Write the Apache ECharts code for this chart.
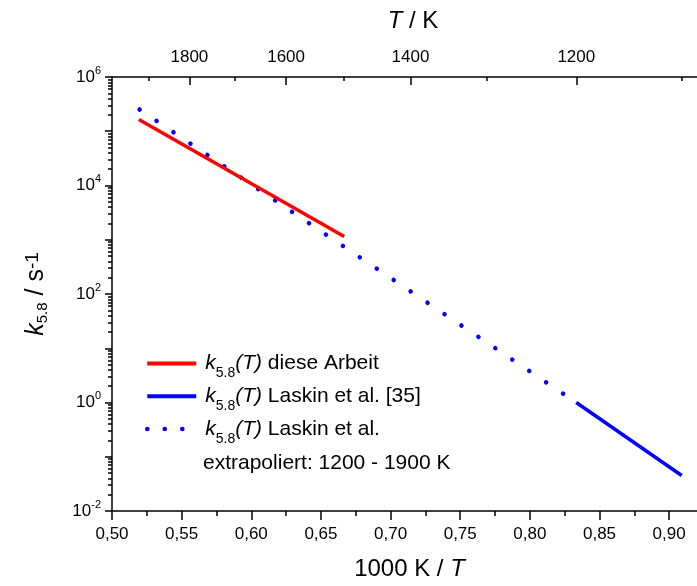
<!DOCTYPE html>
<html><head><meta charset="utf-8">
<script src="https://cdn.jsdelivr.net/npm/echarts@6/dist/echarts.min.js"></script>
<style>html,body{margin:0;padding:0;background:#fff}#c{width:697px;height:586px}</style>
</head><body><div id="c"></div>
<script>
// ---- data ----
const xMajorTicks = [0.50, 0.55, 0.60, 0.65, 0.70, 0.75, 0.80, 0.85, 0.90];
const xMinorTicks = [0.525, 0.575, 0.625, 0.675, 0.725, 0.775, 0.825, 0.875];
const topMajorT = [1800, 1600, 1400, 1200];
const topMinorT = [1900, 1700, 1500, 1300, 1100];
const yLabelValues = [1e-2, 1e0, 1e2, 1e4, 1e6];
const yDecades = [1e-2, 1e-1, 1e0, 1e1, 1e2, 1e3, 1e4, 1e5, 1e6];
const yMinorMultipliers = [2, 3, 4, 5, 6, 7, 8, 9];

const redX = [0.5193, 0.6667];
const redY = [1.65e5, 1146];
const blueSolidX = [0.8333, 0.909];
const blueSolidY = [1.0, 0.045];
const blueDotX = [0.5198, 0.8333];
const blueDotY = [2.52e5, 1.0];

const nameRed = 'k5.8(T) diese Arbeit';
const nameBlue = 'k5.8(T) Laskin et al. [35]';
const nameDot = 'k5.8(T) Laskin et al.';
const extraText = 'extrapoliert: 1200 - 1900 K';

// ---- build ----
const FONT = 'Liberation Sans, Arial, sans-serif';
const zip = (xs, ys) => xs.map((x, i) => [x, ys[i]]);
const yMinor = [];
yDecades.slice(0, -1).forEach(d => yMinorMultipliers.forEach(m => yMinor.push(d * m)));
const legendTail = {};
legendTail[nameRed] = ' diese Arbeit';
legendTail[nameBlue] = ' Laskin et al. [35]';
legendTail[nameDot] = ' Laskin et al.';

const chart = echarts.init(document.getElementById('c'), null, {renderer: 'canvas'});
const axisLineStyle = {color: '#000', width: 1.5};
chart.setOption({
  animation: false,
  backgroundColor: '#fff',
  grid: {left: 112, top: 77, right: -3, bottom: 72, containLabel: false},
  xAxis: [
    { type: 'value', position: 'bottom', min: 0.5, max: 0.92,
      axisLine: {show: true, lineStyle: axisLineStyle},
      axisTick: {show: true, inside: false, length: 9, customValues: xMajorTicks, lineStyle: axisLineStyle},
      axisLabel: {customValues: xMajorTicks, margin: 15, fontSize: 17, color: '#000', fontFamily: FONT,
        formatter: v => v.toFixed(2).replace('.', ',')},
      splitLine: {show: false},
      name: '{n|1000 K / }{i|T}', nameLocation: 'middle', nameGap: 46,
      nameTextStyle: {rich: {
        n: {fontSize: 24, fontFamily: FONT, color: '#000', padding: [0, 0, 0, 10]},
        i: {fontSize: 24, fontFamily: FONT, fontStyle: 'italic', color: '#000'}}}
    },
    { type: 'value', position: 'bottom', min: 0.5, max: 0.92,
      axisLine: {show: false},
      axisTick: {show: true, inside: false, length: 5, customValues: xMinorTicks, lineStyle: axisLineStyle},
      axisLabel: {show: false}, splitLine: {show: false}
    },
    { type: 'value', position: 'top', min: 0.5, max: 0.92,
      axisLine: {show: true, lineStyle: axisLineStyle},
      axisTick: {show: true, inside: true, length: 8, customValues: topMajorT.map(T => 1000 / T), lineStyle: axisLineStyle},
      axisLabel: {customValues: topMajorT.map(T => 1000 / T), margin: 11, fontSize: 17, color: '#000', fontFamily: FONT,
        formatter: v => String(Math.round(1000 / v))},
      splitLine: {show: false},
      name: '{i|T}{n| / K}', nameLocation: 'middle', nameGap: 44,
      nameTextStyle: {rich: {
        n: {fontSize: 24, fontFamily: FONT, color: '#000'},
        i: {fontSize: 24, fontFamily: FONT, fontStyle: 'italic', color: '#000', padding: [0, 0, 0, 17]}}}
    },
    { type: 'value', position: 'top', min: 0.5, max: 0.92,
      axisLine: {show: false},
      axisTick: {show: true, inside: true, length: 4, customValues: topMinorT.map(T => 1000 / T), lineStyle: axisLineStyle},
      axisLabel: {show: false}, splitLine: {show: false}
    }
  ],
  yAxis: [
    { type: 'log', logBase: 10, position: 'left', min: 1e-2, max: 1e6,
      axisLine: {show: true, lineStyle: axisLineStyle},
      axisTick: {show: true, inside: false, length: 7, customValues: yDecades, lineStyle: axisLineStyle},
      axisLabel: {customValues: yLabelValues, margin: 11, color: '#000', fontFamily: FONT,
        formatter: v => '{b|10}{e|' + Math.round(Math.log10(v)) + '}',
        rich: {
          b: {fontSize: 17, lineHeight: 24, fontFamily: FONT, color: '#000'},
          e: {fontSize: 11, lineHeight: 11, verticalAlign: 'top', fontFamily: FONT, color: '#000'}}},
      splitLine: {show: false},
      name: '{k|k}{s|5.8}{n| / s}{p|-1}', nameLocation: 'middle', nameGap: 62, nameRotate: 90,
      nameTextStyle: {rich: {
        k: {fontSize: 25, lineHeight: 27, fontStyle: 'italic', fontFamily: FONT, color: '#000'},
        s: {fontSize: 15, lineHeight: 15, verticalAlign: 'bottom', fontFamily: FONT, color: '#000'},
        n: {fontSize: 25, lineHeight: 27, fontFamily: FONT, color: '#000'},
        p: {fontSize: 19, lineHeight: 24, verticalAlign: 'top', fontFamily: FONT, color: '#000'}}}
    },
    { type: 'log', logBase: 10, position: 'left', min: 1e-2, max: 1e6,
      axisLine: {show: false},
      axisTick: {show: true, inside: false, length: 4, customValues: yMinor, lineStyle: axisLineStyle},
      axisLabel: {show: false}, splitLine: {show: false}
    }
  ],
  legend: {
    orient: 'vertical', left: 145, top: 353, padding: 0, itemGap: 5.5,
    itemWidth: 49, itemHeight: 14, selectedMode: false,
    itemStyle: {opacity: 0, color: 'rgba(0,0,0,0)', borderWidth: 0},
    data: [
      {name: nameRed, lineStyle: {width: 4}},
      {name: nameBlue, lineStyle: {width: 4}},
      {name: nameDot, lineStyle: {type: [0.1, 17.4], cap: 'round', width: 4.5}}
    ],
    formatter: name => '{k|k}{s|5.8}{i|(T)}{n|' + legendTail[name] + '}',
    textStyle: {rich: {
      k: {fontSize: 21, lineHeight: 33.5, fontStyle: 'italic', fontFamily: FONT, color: '#000', padding: [0, 0, 0, 4]},
      s: {fontSize: 14, lineHeight: 14, verticalAlign: 'bottom', fontFamily: FONT, color: '#000'},
      i: {fontSize: 21, lineHeight: 33.5, fontStyle: 'italic', fontFamily: FONT, color: '#000'},
      n: {fontSize: 21, lineHeight: 33.5, fontFamily: FONT, color: '#000'}}}
  },
  graphic: [{
    type: 'text', left: 203, top: 453,
    style: {text: extraText, font: '21px ' + FONT, fill: '#000'}
  }],
  series: [
    { name: nameRed, type: 'line', xAxisIndex: 0, yAxisIndex: 0, symbol: 'none',
      data: zip(redX, redY), lineStyle: {color: '#ff0000', width: 3.5}, itemStyle: {color: '#ff0000'}, z: 3 },
    { name: nameBlue, type: 'line', xAxisIndex: 0, yAxisIndex: 0, symbol: 'none',
      data: zip(blueSolidX, blueSolidY), lineStyle: {color: '#0000ff', width: 3.5}, itemStyle: {color: '#0000ff'} },
    { name: nameDot, type: 'line', xAxisIndex: 0, yAxisIndex: 0, symbol: 'none',
      data: zip(blueDotX, blueDotY), lineStyle: {color: '#0000ff', width: 4.5, type: [0.1, 20.3], cap: 'round'}, itemStyle: {color: '#0000ff'}, z: 2 }
  ]
});
</script></body></html>
